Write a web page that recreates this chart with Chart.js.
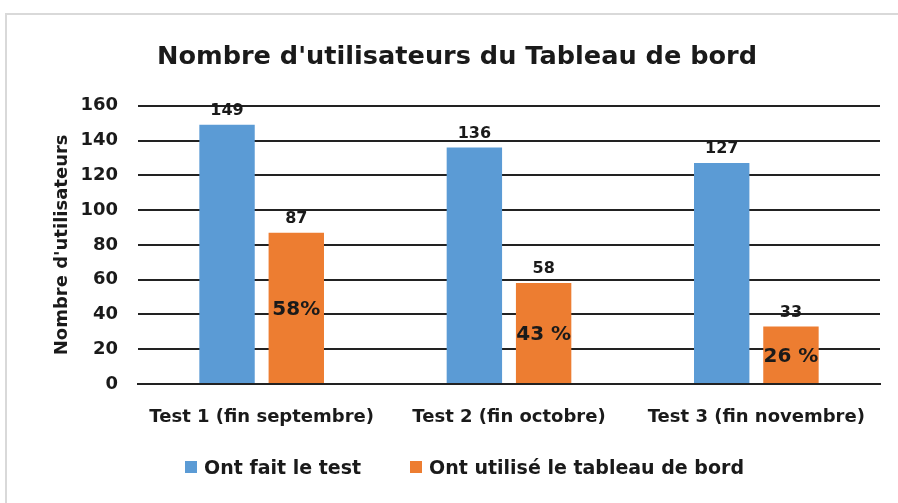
<!DOCTYPE html>
<html>
<head>
<meta charset="utf-8">
<script src="https://cdn.jsdelivr.net/npm/chart.js@4"></script>
<style>
  html, body { margin: 0; padding: 0; background: #fff; }
  #frame { position: absolute; left: 5px; top: 13px; width: 900px; height: 500px;
           border-left: 2px solid #d9d9d9; border-top: 2px solid #d9d9d9; }
  #wrap { position: absolute; left: 0; top: 0; width: 898px; height: 503px; }
  #legend { position: absolute; left: 185px; top: 455px; display: flex; gap: 49px;
            font: bold 19px "DejaVu Sans"; color: #1a1a1a; }
  .item { display: flex; align-items: center; gap: 7px; line-height: 24px; }
  .swatch { width: 12px; height: 12px; display: inline-block; }
</style>
</head>
<body>
<div id="frame"></div>
<div id="wrap"><canvas id="chart"></canvas></div>
<div id="legend"></div>
<script>
// ── Data ──
const categories = ['Test 1 (fin septembre)', 'Test 2 (fin octobre)', 'Test 3 (fin novembre)'];
const testCounts = [149, 136, 127];
const dashboardCounts = [87, 58, 33];
const pctLabels = ['58%', '43 %', '26 %'];
const yTicks = [0, 20, 40, 60, 80, 100, 120, 140, 160];

const FONT = '"DejaVu Sans"';
const INK = '#1a1a1a';

// ── Labels plugin: values above bars, percentages inside orange bars ──
const barLabels = {
  id: 'barLabels',
  afterDatasetsDraw(chart) {
    const ctx = chart.ctx;
    ctx.save();
    ctx.fillStyle = INK;
    ctx.textAlign = 'center';
    ctx.textBaseline = 'middle';
    chart.data.datasets.forEach((ds, di) => {
      const meta = chart.getDatasetMeta(di);
      meta.data.forEach((bar, i) => {
        ctx.font = `bold 16px ${FONT}`;
        ctx.fillText(ds.data[i], bar.x, bar.y - 14);
        if (di === 1) {
          ctx.font = `bold 20px ${FONT}`;
          ctx.fillText(pctLabels[i], bar.x, (bar.y + bar.base) / 2 + 2);
        }
      });
    });
    ctx.restore();
  }
};

const chart = new Chart(document.getElementById('chart'), {
  type: 'bar',
  data: {
    labels: categories,
    datasets: [
      { label: 'Ont fait le test', data: testCounts, backgroundColor: '#5b9bd5' },
      { label: 'Ont utilisé le tableau de bord', data: dashboardCounts, backgroundColor: '#ed7d31' }
    ]
  },
  options: {
    responsive: true, maintainAspectRatio: false,
    animation: false,
    categoryPercentage: 0.56,
    barPercentage: 0.8,
    layout: { padding: { left: 34, right: 18, top: 0, bottom: 71 } },
    plugins: {
      title: {
        display: true,
        text: "Nombre d'utilisateurs du Tableau de bord",
        color: INK,
        font: { family: FONT, size: 25.6, weight: 'bold' },
        padding: { top: 42, bottom: 33 }
      },
      legend: { display: false },
      tooltip: { enabled: false }
    },
    scales: {
      x: {
        afterFit: s => { s.height = 48; },
        grid: { display: false },
        border: { color: '#222', width: 2 },
        ticks: { color: INK, padding: 15, font: { family: FONT, size: 18, weight: 'bold' } }
      },
      y: {
        min: 0, max: 160,
        afterBuildTicks: s => { s.ticks = yTicks.map(v => ({ value: v })); },
        afterFit: s => { s.width = 104; },
        grid: { color: '#222', lineWidth: 2, drawTicks: false },
        border: { display: false },
        ticks: { color: INK, padding: 20, font: { family: FONT, size: 18, weight: 'bold' } },
        title: {
          display: true, text: "Nombre d'utilisateurs", color: INK,
          font: { family: FONT, size: 18, weight: 'bold' }, padding: { top: 18, bottom: 0 }
        }
      }
    }
  },
  plugins: [barLabels]
});

// ── HTML legend built from the datasets ──
document.getElementById('legend').innerHTML = chart.data.datasets.map(ds => `
  <span class="item"><span class="swatch" style="background:${ds.backgroundColor}"></span>${ds.label}</span>
`).join('');
</script>
</body>
</html>
